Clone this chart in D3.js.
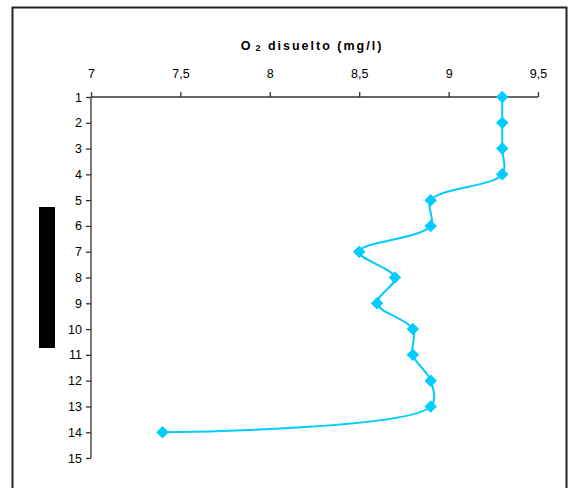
<!DOCTYPE html>
<html><head><meta charset="utf-8">
<script src="https://cdn.jsdelivr.net/npm/d3@7"></script>
<style>body{margin:0;background:#fff}svg{display:block}</style>
</head><body>
<script>
const depths = [1,2,3,4,5,6,7,8,9,10,11,12,13,14];
const oxygen = [9.3,9.3,9.3,9.3,8.9,8.9,8.5,8.7,8.6,8.8,8.8,8.9,8.9,7.4];
const xTicks = [7,7.5,8,8.5,9,9.5];
const yTicks = [1,2,3,4,5,6,7,8,9,10,11,12,13,14,15];
const titleParts = ["O", "2", " disuelto (mg/l)"];

const W=573,H=488;
const svg=d3.select("body").append("svg").attr("width",W).attr("height",H);
svg.append("path").attr("d","M12.5,488 V7.5 H566.5 V488").attr("fill","none").attr("stroke","#222").attr("stroke-width",2);

const x=d3.scaleLinear().domain([7,9.5]).range([91,538]);
const y=d3.scaleLinear().domain([1,15]).range([97,458]);
const fmt=d=>String(d).replace(".",",");

const xa=svg.append("g").attr("transform","translate(0,97)")
 .call(d3.axisTop(x).tickValues(xTicks).tickSize(5).tickPadding(14).tickFormat(fmt));
const ya=svg.append("g").attr("transform","translate(91,0)")
 .call(d3.axisLeft(y).tickValues(yTicks).tickSize(5).tickPadding(4).tickFormat(d3.format("d")));
[xa,ya].forEach(g=>{
  g.selectAll("path,line").attr("stroke","#333").attr("stroke-width",1.3);
  g.selectAll("text").attr("font-family","Liberation Sans, Arial, sans-serif").attr("font-size",12.5).attr("fill","#000");
});
xa.select(".domain").attr("d","M91,0H538");
ya.select(".domain").attr("d","M0,97V458");

const t=svg.append("text").attr("x",312).attr("y",50).attr("text-anchor","middle")
 .attr("font-family","Liberation Sans, Arial, sans-serif").attr("font-weight","bold").attr("font-size",12.5)
 .attr("letter-spacing","2px");
t.append("tspan").text(titleParts[0]);
t.append("tspan").attr("font-size",9).attr("dx",3).attr("dy",1).text(titleParts[1]);
t.append("tspan").attr("dy",-1).text(titleParts[2]);

svg.append("rect").attr("x",39).attr("y",207).attr("width",16).attr("height",141).attr("fill","#000");

const pts=depths.map((d,i)=>[x(oxygen[i]),y(d)]);
svg.append("path").attr("d",d3.line().curve(d3.curveCatmullRom.alpha(0.5))(pts))
 .attr("fill","none").attr("stroke","#00CCFF").attr("stroke-width",2);
svg.selectAll("path.m").data(pts).enter().append("path").attr("class","m")
 .attr("d",d3.symbol(d3.symbolSquare,78)).attr("transform",d=>`translate(${d[0]},${d[1]}) rotate(45)`)
 .attr("fill","#00CCFF");
</script>
</body></html>
